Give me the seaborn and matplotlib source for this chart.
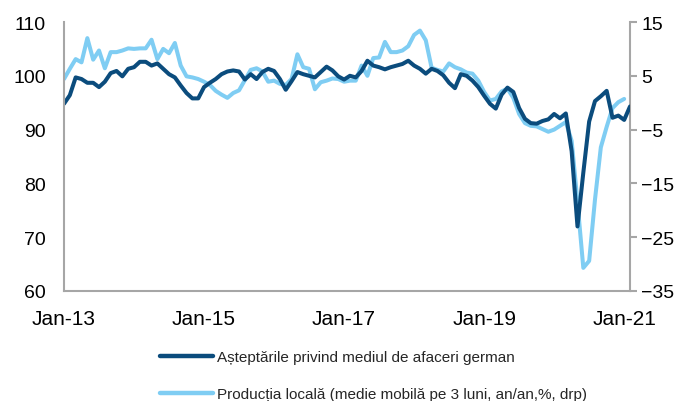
import numpy as np
import pandas as pd
import matplotlib
matplotlib.use("Agg")
import matplotlib.pyplot as plt
from matplotlib.lines import Line2D
import seaborn as sns

# ---------------- data ----------------
tick_labels = ["Jan-13", "Jan-15", "Jan-17", "Jan-19", "Jan-21"]
tick_positions = [0, 24, 48, 72, 96]

label_dark = "Așteptările privind mediul de afaceri german"
label_light = "Producția locală (medie mobilă pe 3 luni, an/an,%, drp)"

# German business expectations (left axis), monthly Jan-13 .. Feb-21
dark = [94.8, 96.4, 99.7, 99.4, 98.7, 98.7, 97.9, 98.9, 100.5, 100.9, 99.9, 101.3,
        101.6, 102.6, 102.6, 101.9, 102.3, 101.3, 100.3, 99.7, 98.2,
        96.8, 95.8, 95.8, 97.9, 98.7, 99.4, 100.3, 100.8, 101.0, 100.8, 99.3,
        100.3, 99.4, 100.7, 101.3, 100.9, 99.4, 97.4, 99.0,
        100.7, 100.3, 100.0, 99.7, 100.7, 101.7, 101.0, 99.9, 99.3, 100.0, 99.7,
        100.9, 102.8, 101.9, 101.6, 101.2, 101.6, 101.9, 102.2,
        102.8, 101.9, 101.3, 100.4, 101.3, 100.9, 100.1, 98.7, 97.7, 100.3, 100.0,
        99.1, 97.9,
        96.3, 94.8, 93.9, 96.5, 97.8, 97.0, 94.0, 92.0,
        91.2, 91.1, 91.6, 91.9, 92.9, 92.1, 93.0,
        86.0, 72.0, 82.0, 91.5, 95.3, 96.2, 97.2, 92.2, 92.6, 91.8, 94.3]

# Local production, 3m moving average y/y % (right axis), Jan-13 .. Jan-21
light = [4.4, 6.3, 8.1, 7.5, 12.0, 8.0, 9.7, 6.4, 9.4, 9.4, 9.7, 10.1, 10.0, 10.1,
         10.1, 11.7, 8.1, 10.0, 9.2, 11.1,
         6.9, 4.9, 4.7, 4.4, 3.9, 3.3, 2.2, 1.5, 0.9, 1.8, 2.3, 4.2, 6.1, 6.4, 5.8,
         3.9, 4.1, 3.5, 3.3, 4.4,
         9.0, 6.6, 6.3, 2.5, 3.8, 4.1, 4.5, 4.4, 3.9, 4.1, 4.1, 6.9, 5.0, 8.3, 8.4,
         11.3, 9.4, 9.4, 9.7, 10.5,
         12.6, 13.4, 11.6, 6.5, 6.1, 5.8, 7.3, 6.6, 6.2, 5.6, 5.4, 4.1, 2.0, 0.4,
         0.7, 2.1, 2.6, 0.9, -2.1, -3.8,
         -4.3, -4.4, -4.9, -5.4, -5.0, -4.3, -3.6, -7.1, -18.5, -30.7, -29.4,
         -18.0, -8.3, -4.5, -1.0, 0.1, 0.7]

# ---------------- style ----------------
sns.set_theme(style="white")
plt.rcParams["font.family"] = ["Liberation Sans", "DejaVu Sans"]

C_DARK = "#0B4C7D"
C_LIGHT = "#7FCDF3"
C_AXIS = "#A6A6A6"

fig = plt.figure(figsize=(6.8, 4.02), dpi=100)
ax = fig.add_axes([64 / 680, 1 - 292 / 402, (630 - 64) / 680, (292 - 23) / 402])
ax2 = ax.twinx()

df_dark = pd.DataFrame({"t": np.arange(len(dark)), "v": dark})
df_light = pd.DataFrame({"t": np.arange(len(light)), "v": light})

sns.lineplot(data=df_light, x="t", y="v", ax=ax2, color=C_LIGHT, lw=2.9)
sns.lineplot(data=df_dark, x="t", y="v", ax=ax, color=C_DARK, lw=2.9)

# dark line on top
ax.set_zorder(ax2.get_zorder() + 1)
ax.patch.set_visible(False)

ax.set_xlim(0, len(dark) - 1)
ax.set_ylim(60, 110)
ax2.set_ylim(-35, 15)
ax.set_yticks(range(60, 111, 10))
ax2.set_yticks(range(-35, 16, 10))
ax.set_xticks(tick_positions)
ax.set_xticklabels(tick_labels)

for a in (ax, ax2):
    a.set_xlabel("")
    a.set_ylabel("")
    a.grid(False)

ax.tick_params(axis="y", length=0, pad=13, labelsize=14, labelcolor="black")
ax.tick_params(axis="x", length=0, pad=13, labelsize=15, labelcolor="black")
ax2.tick_params(axis="y", length=5, width=1.5, color=C_AXIS, direction="out",
                pad=3, labelsize=14, labelcolor="black")

for s in ["top", "right"]:
    ax.spines[s].set_visible(False)
for s in ["top", "left", "bottom"]:
    ax2.spines[s].set_visible(False)
for s in ["left", "bottom"]:
    ax.spines[s].set_color(C_AXIS)
    ax.spines[s].set_linewidth(1.5)
ax2.spines["right"].set_color(C_AXIS)
ax2.spines["right"].set_linewidth(1.5)

handles = [Line2D([], [], color=C_DARK, lw=3.2),
           Line2D([], [], color=C_LIGHT, lw=3.2)]
fig.legend(handles, [label_dark, label_light], loc="upper left",
           bbox_to_anchor=(160 / 680, 1 - 351 / 402), frameon=False,
           fontsize=11, handlelength=3.5, handletextpad=0.25,
           labelspacing=1.5, borderpad=0, borderaxespad=0)

fig.savefig("out.png", dpi=100)
